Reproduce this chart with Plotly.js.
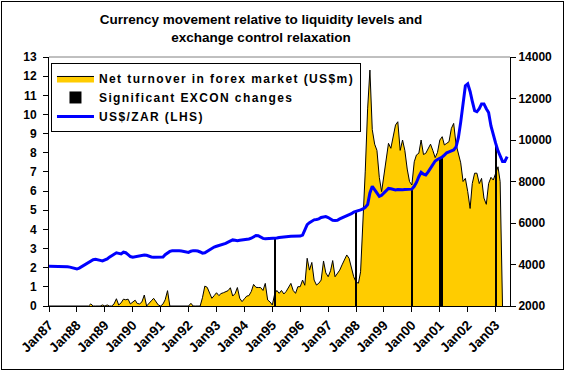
<!DOCTYPE html>
<html><head><meta charset="utf-8">
<script src="https://cdn.plot.ly/plotly-3.0.1.min.js"></script>
<style>
html,body{margin:0;padding:0;background:#fff;}
#chart{position:absolute;left:1px;top:1px;width:563px;height:369px;box-sizing:border-box;border:1px solid #000;}
text.legendtext{letter-spacing:1.4px;}
</style></head><body><div id="chart"></div>
<script>
// Monthly series starting Jan 1987
var startYear = 1987;
// US$/ZAR exchange rate (left axis), Jan87 - Jun03
var zarUsd = [
 2.08,2.08,2.07,2.06,2.05,2.05,2.06,2.06,2.05,2.03,2.00,1.94,
 1.93,1.98,2.05,2.12,2.19,2.28,2.38,2.42,2.44,2.43,2.38,2.35,
 2.40,2.46,2.55,2.62,2.70,2.78,2.75,2.72,2.81,2.78,2.68,2.58,
 2.55,2.57,2.60,2.64,2.66,2.66,2.65,2.60,2.56,2.55,2.55,2.56,
 2.56,2.56,2.68,2.78,2.85,2.88,2.89,2.89,2.88,2.87,2.84,2.79,
 2.80,2.86,2.89,2.88,2.87,2.82,2.76,2.78,2.85,2.95,3.03,3.08,
 3.12,3.15,3.19,3.21,3.27,3.33,3.38,3.45,3.43,3.41,3.43,3.44,
 3.45,3.46,3.50,3.54,3.60,3.68,3.67,3.58,3.53,3.51,3.52,3.52,
 3.52,3.52,3.55,3.58,3.60,3.61,3.62,3.63,3.64,3.64,3.64,3.64,
 3.65,3.70,3.95,4.25,4.35,4.45,4.50,4.52,4.55,4.62,4.66,4.67,
 4.62,4.55,4.48,4.46,4.48,4.55,4.60,4.66,4.68,4.75,4.82,4.90,
 4.93,4.96,5.02,5.07,5.15,5.30,5.90,6.25,6.05,5.85,5.72,5.78,
 5.90,6.05,6.14,6.12,6.07,6.06,6.08,6.06,6.07,6.08,6.10,6.10,
 6.10,6.25,6.45,6.75,6.98,6.88,6.84,7.00,7.20,7.35,7.57,7.65,
 7.70,7.78,7.88,8.00,8.05,8.10,8.15,8.30,8.80,9.60,10.50,11.50,
 11.60,11.20,10.70,10.20,10.15,10.30,10.55,10.55,10.30,10.10,9.40,8.90,
 8.50,8.10,7.80,7.55,7.55,7.80
];
// Net turnover in forex market, US$m (right axis), Jan87 - Apr03
var turnover = [
 2000,2000,2000,2000,2000,2000,2000,2000,2000,2000,2000,2000,
 2000,2000,2000,2000,2000,2000,2100,2000,2000,2000,2000,2050,
 2000,2050,2000,2000,2100,2350,2050,2150,2330,2300,2330,2100,
 2180,2280,2120,2100,2200,2530,2000,2150,2250,2370,2200,2050,
 2000,2100,2300,2740,2000,2000,2000,2000,2000,2000,2000,2000,
 2000,2130,2000,2000,2000,2000,2400,2960,2900,2650,2370,2500,
 2640,2500,2600,2640,2700,2740,2880,2480,2600,2890,2370,2210,
 2350,2480,2500,2700,3040,2900,2890,2890,2750,3090,2290,2200,
 2050,2580,2750,2610,2750,2580,2700,2890,3090,2750,2610,2930,
 2930,3250,3000,4300,3730,4100,3250,3010,3100,3250,4170,3600,
 3410,3700,4190,3410,3570,3730,3980,4200,4460,4300,3890,3410,
 3150,3100,3650,6000,8500,11500,13370,10500,9800,9500,8200,7510,
 8300,9280,9840,9600,10240,10720,10880,9500,10000,9500,8600,8000,
 7830,8950,9280,9360,10000,9300,9360,9600,9800,9500,9150,9400,
 10000,10160,9760,9840,9920,10560,10800,9800,9350,8900,8000,8150,
 7510,6700,7900,8400,8400,7900,8150,7200,6900,7900,8200,8070,
 8390,8710,8000,2000
];
// Significant exchange control changes (bar height = US$/ZAR level at the time)
var exconDates = ['1995-02-01','1998-01-01','2000-01-01','2001-01-01','2001-02-01','2003-01-01'];
var exconLevels = [3.52,4.93,6.10,7.70,7.78,8.50];

var seriesNames = ['Net turnover in forex market (US$m)','Significant EXCON changes','US$/ZAR (LHS)'];
var titleLines = ['Currency movement relative to liquidity levels and','exchange control relaxation'];

function monthStr(i){
  var y = startYear + Math.floor(i/12), m = (i%12)+1;
  return y + '-' + (m<10?'0':'') + m + '-01';
}
var zarDates = zarUsd.map(function(_,i){return monthStr(i);});
var turnDates = turnover.map(function(_,i){return monthStr(i);});

var FONT = '"Liberation Sans", Arial, sans-serif';
var traces = [
  {type:'scatter', mode:'lines', x:turnDates, y:turnover, yaxis:'y', name:seriesNames[0],
   fill:'tozeroy', fillcolor:'#FFCC00', line:{color:'#000', width:1}},
  {type:'bar', x:exconDates, y:exconLevels, yaxis:'y2', name:seriesNames[1],
   marker:{color:'#000', line:{width:0}}, width:2.2e9},
  {type:'scatter', mode:'lines', x:zarDates, y:zarUsd, yaxis:'y2', name:seriesNames[2],
   line:{color:'#0000FF', width:3}}
];
var tf = {family:FONT, size:12, color:'#000', weight:'bold'};
var xtf = {family:FONT, size:13.5, color:'#000', weight:'bold'};
var layout = {
  width:561, height:367,
  margin:{l:47, r:53, t:55, b:63, pad:0},
  paper_bgcolor:'#fff', plot_bgcolor:'#fff',
  showlegend:true,
  title:{text:titleLines.join('<br>'), font:{family:FONT, size:13.5, color:'#000', weight:'bold'},
    x:0.4617, xanchor:'center', xref:'container', y:0.94, yanchor:'top', yref:'container'},
  xaxis:{type:'date', range:['1987-01-01','2003-07-08'], tickformat:'%b%y', dtick:'M12', tick0:'1987-01-01',
    tickangle:-45, ticks:'outside', ticklen:5, tickcolor:'#000', showline:true, linecolor:'#000', linewidth:1,
    showgrid:false, zeroline:false, tickfont:xtf, fixedrange:true},
  yaxis:{side:'right', range:[2000,14000], dtick:2000, tickformat:'d', ticks:'outside', ticklen:5, tickcolor:'#000',
    showline:true, linecolor:'#000', linewidth:1, showgrid:false, zeroline:false, tickfont:tf},
  yaxis2:{side:'left', overlaying:'y', range:[0,13], dtick:1, ticks:'outside', ticklen:5, tickcolor:'#000',
    ticklabelstandoff:4,
    showline:true, linecolor:'#000', linewidth:1, showgrid:false, zeroline:false, tickfont:tf},
  legend:{x:0.0043, y:0.976, xanchor:'left', yanchor:'top', bgcolor:'#fff', bordercolor:'#000', borderwidth:1,
    font:{family:FONT, size:12, color:'#000', weight:'bold'}, tracegroupgap:0, itemwidth:37},
  bargap:0,
  shapes:[{type:'line', xref:'paper', yref:'paper', x0:0, x1:1, y0:1, y1:1, line:{color:'#808080', width:1}}]
};
Plotly.newPlot('chart', traces, layout, {displayModeBar:false, staticPlot:true});
</script></body></html>
